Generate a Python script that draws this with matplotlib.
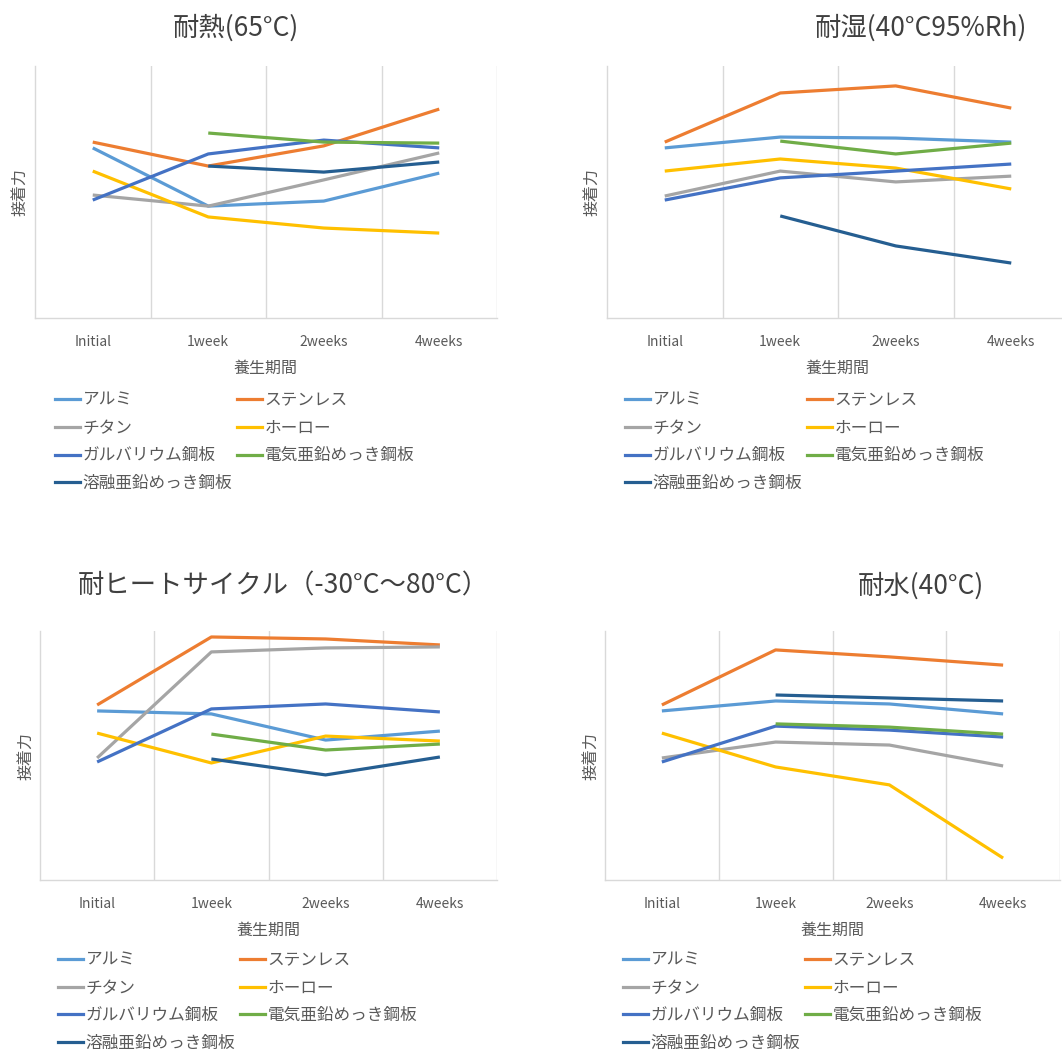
import numpy as np
import matplotlib
matplotlib.use("Agg")
import matplotlib.pyplot as plt
from matplotlib.lines import Line2D

plt.rcParams['font.family'] = ['Noto Sans CJK JP', 'DejaVu Sans']

W, H = 1062, 1050

categories = ["Initial", "1week", "2weeks", "4weeks"]
series_names = ["アルミ", "ステンレス", "チタン", "ホーロー",
                "ガルバリウム鋼板", "電気亜鉛めっき鋼板", "溶融亜鉛めっき鋼板"]
series_colors = ["#5B9BD5", "#ED7D31", "#A5A5A5", "#FFC000",
                 "#4472C4", "#70AD47", "#255E91"]
nan = np.nan

titles = ["耐熱(65°C)", "耐湿(40°C95%Rh)", "耐ヒートサイクル（-30°C～80°C）", "耐水(40°C)"]

# 耐熱(65°C)
heat = [
    [67.5, 44.4, 46.4, 57.5],
    [69.8, 60.3, 68.3, 82.9],
    [48.8, 44.4, 54.8, 65.5],
    [58.3, 40.1, 35.7, 33.7],
    [46.8, 65.1, 70.6, 67.5],
    [nan, 73.4, 69.8, 69.4],
    [nan, 60.3, 57.9, 61.9],
]
# 耐湿(40°C95%Rh)
humid = [
    [67.5, 71.8, 71.4, 69.8],
    [69.8, 89.3, 92.1, 83.3],
    [48.4, 58.3, 54.0, 56.3],
    [58.3, 63.1, 59.5, 51.2],
    [46.8, 55.6, 58.3, 61.1],
    [nan, 70.2, 65.1, 69.4],
    [nan, 40.5, 28.6, 21.8],
]
# 耐ヒートサイクル
cycle = [
    [67.9, 66.7, 56.2, 59.8],
    [70.3, 97.6, 96.8, 94.4],
    [49.0, 91.6, 93.2, 93.6],
    [59.0, 47.0, 57.8, 55.8],
    [47.4, 68.7, 70.7, 67.5],
    [nan, 58.6, 52.2, 54.6],
    [nan, 48.6, 42.2, 49.4],
]
# 耐水(40°C)
water = [
    [67.9, 71.9, 70.7, 66.7],
    [70.3, 92.4, 89.6, 86.3],
    [49.0, 55.4, 54.2, 45.8],
    [59.0, 45.4, 38.2, 8.8],
    [47.4, 61.8, 60.2, 57.4],
    [nan, 62.7, 61.4, 58.6],
    [nan, 74.3, 73.1, 71.9],
]
datasets = [heat, humid, cycle, water]

# layout in pixels: (left, right, top, bottom)
axes_px = [(35, 497, 66, 318), (607, 1069, 66, 318),
           (40, 497, 631, 880), (605, 1060, 631, 880)]
title_px = [(236, 28), (921, 28), (283, 586), (921, 586)]
ylabel_px = [28, 600, 34, 599]
legend_px = [(55, 392), (625, 392), (58, 952), (623, 952)]

GRID = "#D9D9D9"
TXT = "#595959"

# legend fills column-first; reorder so entries read row by row
leg_order = [0, 2, 4, 6, 1, 3, 5]

fig = plt.figure(figsize=(W / 100, H / 100), dpi=100)

for i in range(4):
    l, r, t, b = axes_px[i]
    ax = fig.add_axes([l / W, 1 - b / H, (r - l) / W, (b - t) / H])
    x = np.arange(len(categories))
    for name, color, vals in zip(series_names, series_colors, datasets[i]):
        ax.plot(x, vals, color=color, lw=2.3, label=name, solid_capstyle='butt')
    ax.set_xlim(-0.5, 3.5)
    ax.set_ylim(0, 100)
    ax.set_xticks(x)
    ax.set_xticklabels(categories, fontsize=10, color=TXT)
    ax.tick_params(axis='x', length=0, pad=12)
    ax.set_yticks([])
    for s in ['top', 'right']:
        ax.spines[s].set_visible(False)
    for s in ['left', 'bottom']:
        ax.spines[s].set_color(GRID)
        ax.spines[s].set_linewidth(1.0)
    for gx in [0.5, 1.5, 2.5, 3.5]:
        ax.axvline(gx, color=GRID, lw=1.0, zorder=0)
    ax.set_xlabel("養生期間", fontsize=11.5, color=TXT, labelpad=8)
    ax.set_ylabel("接着力", fontsize=11.5, color=TXT)
    ax.yaxis.set_label_coords((ylabel_px[i] - l) / (r - l), 0.5)
    tx, ty = title_px[i]
    fig.text(tx / W, 1 - ty / H, titles[i], fontsize=19, color="#404040",
             ha='center', va='center')
    lx, ly = legend_px[i]
    handles = [Line2D([0], [0], color=series_colors[k], lw=2.3) for k in leg_order]
    labels = [series_names[k] for k in leg_order]
    fig.legend(handles, labels, loc='upper left',
               bbox_to_anchor=(lx / W, 1 - ly / H), bbox_transform=fig.transFigure,
               ncol=2, frameon=False, fontsize=12, labelcolor=TXT,
               handlelength=1.5, handletextpad=0.15, columnspacing=0.3,
               borderpad=0, borderaxespad=0, labelspacing=0.64)

fig.savefig("out.png", dpi=100)
